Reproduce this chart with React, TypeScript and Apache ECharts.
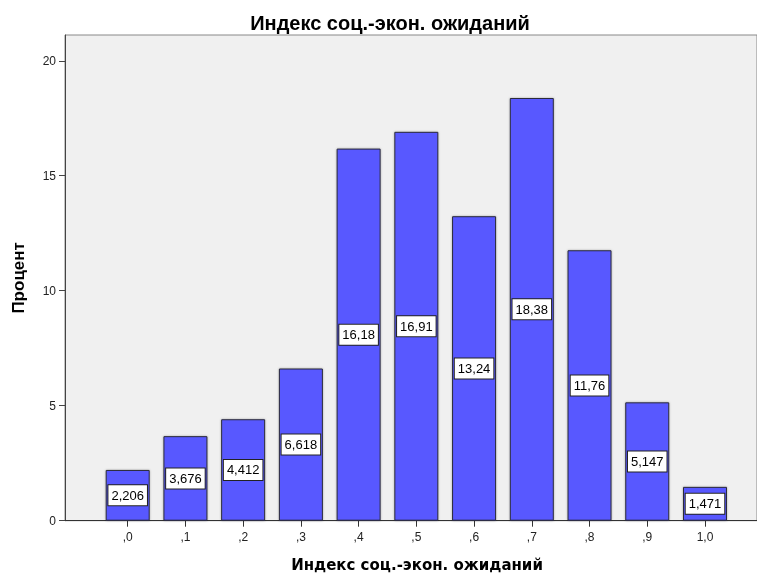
import React, { useEffect, useRef } from "react";
import * as echarts from "echarts";

const xValues = [0, 0.1, 0.2, 0.3, 0.4, 0.5, 0.6, 0.7, 0.8, 0.9, 1.0];
const tickLabels = [",0", ",1", ",2", ",3", ",4", ",5", ",6", ",7", ",8", ",9", "1,0"];
const percents = [2.206, 3.676, 4.412, 6.618, 16.18, 16.91, 13.24, 18.38, 11.76, 5.147, 1.471];
const percentLabels = ["2,206", "3,676", "4,412", "6,618", "16,18", "16,91", "13,24", "18,38", "11,76", "5,147", "1,471"];
const yTicks = [0, 5, 10, 15, 20];

const titleText = "Индекс соц.-экон. ожиданий";
const xName = "Индекс соц.-экон. ожиданий";
const yName = "Процент";

export default function App() {
  const ref = useRef<HTMLDivElement>(null);
  useEffect(() => {
    if (!ref.current) return;
    const chart = echarts.init(ref.current, null, { renderer: "svg" });
    const font = "Liberation Sans, Arial, sans-serif";
    chart.setOption({
      animation: false,
      textStyle: { fontFamily: font },
      title: {
        text: titleText,
        left: 385,
        top: 8,
        textAlign: "center",
        textStyle: { fontSize: 20, fontWeight: "bold", color: "#000", fontFamily: font },
      },
      grid: {
        left: 65,
        right: 0,
        top: 35,
        bottom: 52.3,
        outerBoundsMode: "none",
        containLabel: false,
        show: true,
        backgroundColor: "#f0f0f0",
        borderColor: "#888",
        borderWidth: 1,
      },
      xAxis: {
        type: "value",
        min: -0.1086,
        max: 1.0901,
        splitLine: { show: false },
        axisLine: { show: true, onZero: false, lineStyle: { color: "#333", width: 1 } },
        axisTick: {
          show: true,
          customValues: xValues,
          length: 6,
          lineStyle: { color: "#333" },
        },
        axisLabel: {
          customValues: xValues,
          margin: 10,
          fontSize: 12,
          color: "#222",
          fontFamily: font,
          formatter: (v: number) => {
            const i = xValues.findIndex((x) => Math.abs(x - v) < 1e-6);
            return i >= 0 ? tickLabels[i] : "";
          },
        },
        name: xName,
        nameLocation: "middle",
        nameGap: 37,
        nameTextStyle: {
          fontSize: 15,
          fontWeight: "bold",
          color: "#000",
          fontFamily: "DejaVu Sans, sans-serif",
          padding: [0, 0, 0, 12],
        },
      },
      yAxis: {
        type: "value",
        min: 0,
        max: 21.12,
        interval: 5,
        splitLine: { show: false },
        axisLine: { show: true, onZero: false, lineStyle: { color: "#444", width: 1 } },
        axisTick: { show: true, customValues: yTicks, length: 6, lineStyle: { color: "#444" } },
        axisLabel: {
          customValues: yTicks,
          margin: 9,
          fontSize: 12,
          color: "#222",
          fontFamily: font,
        },
        name: yName,
        nameLocation: "middle",
        nameGap: 38,
        nameTextStyle: { fontSize: 17, fontWeight: "bold", color: "#000", fontFamily: font },
      },
      series: [
        {
          type: "bar",
          barWidth: 44,
          data: xValues.map((x, i) => [x, percents[i]]),
          itemStyle: {
            color: "#5959ff",
            borderColor: "#2a2a3a",
            borderWidth: 1,
            shadowColor: "rgba(0,0,0,0.3)",
            shadowBlur: 2,
          },
          label: {
            show: true,
            position: "inside",
            formatter: (p: any) => percentLabels[p.dataIndex],
            backgroundColor: "#fff",
            borderColor: "#222",
            borderWidth: 1,
            padding: [4, 3, 3, 3],
            fontSize: 13,
            color: "#000",
            fontFamily: font,
          },
        },
      ],
    });
    return () => chart.dispose();
  }, []);
  return (
    <div
      ref={ref}
      style={{ position: "fixed", left: 0, top: 0, width: 757, height: 573 }}
    />
  );
}
